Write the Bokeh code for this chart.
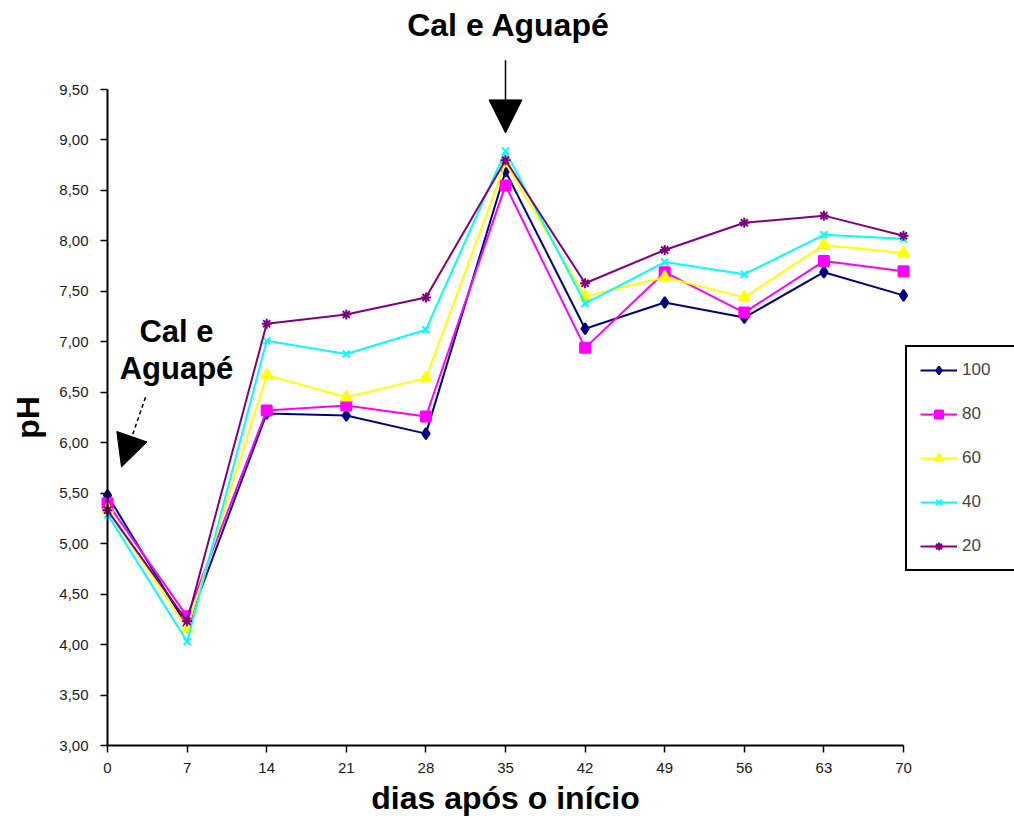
from bokeh.plotting import figure
from bokeh.models import (Range1d, FixedTicker, Legend, LegendItem, Label, Arrow,
                          NormalHead, ColumnDataSource, LinearAxis)
from bokeh.embed import file_html
from bokeh.resources import INLINE

days = [0, 7, 14, 21, 28, 35, 42, 49, 56, 63, 70]
s100 = [5.48, 4.18, 6.29, 6.27, 6.09, 8.69, 7.13, 7.39, 7.24, 7.69, 7.46]
s80 = [5.40, 4.28, 6.32, 6.37, 6.26, 8.55, 6.94, 7.69, 7.29, 7.80, 7.70]
s60 = [5.34, 4.16, 6.67, 6.45, 6.64, 8.77, 7.45, 7.64, 7.44, 7.96, 7.88]
s40 = [5.29, 4.03, 7.01, 6.88, 7.12, 8.89, 7.38, 7.79, 7.67, 8.06, 8.02]
s20 = [5.33, 4.23, 7.18, 7.27, 7.44, 8.80, 7.58, 7.91, 8.18, 8.25, 8.05]

series_names = ["100", "80", "60", "40", "20"]
series_values = [s100, s80, s60, s40, s20]
colors = ["#000080", "#FF00FF", "#FFFF00", "#00FFFF", "#800080"]
markers = ["diamond", "square", "triangle", "x", "asterisk"]
marker_sizes = [11, 10, 11, 10, 10]

y_ticks = [3.0, 3.5, 4.0, 4.5, 5.0, 5.5, 6.0, 6.5, 7.0, 7.5, 8.0, 8.5, 9.0, 9.5]
y_tick_labels = ["3,00", "3,50", "4,00", "4,50", "5,00", "5,50", "6,00", "6,50",
                 "7,00", "7,50", "8,00", "8,50", "9,00", "9,50"]

# plot area in pixels: x 107..903 for days 0..70, y 745..89 for pH 3..9.5
W, H = 1014, 818
px_day = (903 - 107) / 70.0
px_ph = (745 - 89) / 6.5
x0 = 0 - 107 / px_day
x1 = 70 + (W - 903) / px_day
y0 = 3 - (H - 745) / px_ph
y1 = 9.5 + 89 / px_ph

p = figure(width=W, height=H, output_backend="svg", toolbar_location=None,
           x_range=Range1d(x0, x1), y_range=Range1d(y0, y1),
           x_axis_location=None, y_axis_location=None, min_border=0)
p.outline_line_color = None
p.grid.visible = False
p.background_fill_color = "white"
p.border_fill_color = "white"

FONT = "Liberation Sans"

xaxis = LinearAxis(fixed_location=3, bounds=(0, 70), ticker=FixedTicker(ticks=days),
                   axis_label="dias após o início")
yaxis = LinearAxis(fixed_location=0, bounds=(3, 9.5), ticker=FixedTicker(ticks=y_ticks),
                   axis_label="pH")
yaxis.major_label_overrides = {t: l for t, l in zip(y_ticks, y_tick_labels)}
for ax in (xaxis, yaxis):
    ax.axis_line_color = "black"
    ax.axis_line_width = 2
    ax.major_tick_line_color = "black"
    ax.major_tick_line_width = 1.5
    ax.major_tick_out = 7
    ax.major_tick_in = 0
    ax.minor_tick_line_color = None
    ax.major_label_text_font = FONT
    ax.major_label_text_font_size = "15px"
    ax.major_label_text_color = "#1a1a1a"
    ax.axis_label_text_font = FONT
    ax.axis_label_text_font_style = "bold"
    ax.axis_label_text_font_size = "32px"
    ax.axis_label_text_color = "black"
xaxis.major_label_standoff = 10
xaxis.axis_label_standoff = 4
yaxis.major_label_standoff = 12
yaxis.axis_label_standoff = 10
p.add_layout(xaxis, "below")
p.add_layout(yaxis, "left")

items = []
for name, vals, c, m, s in zip(series_names, series_values, colors, markers, marker_sizes):
    src = ColumnDataSource(dict(x=days, y=vals))
    r1 = p.line("x", "y", source=src, line_color=c, line_width=2)
    r2 = p.scatter("x", "y", source=src, marker=m, size=s, fill_color=c,
                   line_color=c, line_width=2)
    items.append(LegendItem(label=name, renderers=[r1, r2]))

legend = Legend(items=items, location=(905, 247), border_line_color="black",
                border_line_width=2, border_line_alpha=1.0, label_text_font=FONT,
                label_text_font_size="17px", glyph_width=37, glyph_height=20,
                spacing=24, padding=13, margin=0, label_standoff=5, label_width=40,
                background_fill_color="white", background_fill_alpha=1)
p.add_layout(legend, "center")

# annotations
p.add_layout(Label(x=35.27, y=10.14, text="Cal e Aguapé", text_align="center",
                   text_baseline="middle", text_font=FONT, text_font_style="bold",
                   text_font_size="32px", text_color="black"))
p.add_layout(Arrow(x_start=35, y_start=9.79, x_end=35, y_end=9.07,
                   line_color="black", line_width=1.5,
                   end=NormalHead(size=33, fill_color="black", line_color="black")))

p.add_layout(Label(x=6.07, y=7.10, text="Cal e", text_align="center",
                   text_baseline="middle", text_font=FONT, text_font_style="bold",
                   text_font_size="31px", text_color="black"))
p.add_layout(Label(x=6.07, y=6.74, text="Aguapé", text_align="center",
                   text_baseline="middle", text_font=FONT, text_font_style="bold",
                   text_font_size="31px", text_color="black"))
p.add_layout(Arrow(x_start=3.34, y_start=6.45, x_end=1.23, y_end=5.76,
                   line_color="black", line_width=1.5, line_dash="4 3",
                   end=NormalHead(size=32, fill_color="black", line_color="black")))

open("out.html", "w").write(file_html(p, INLINE))
